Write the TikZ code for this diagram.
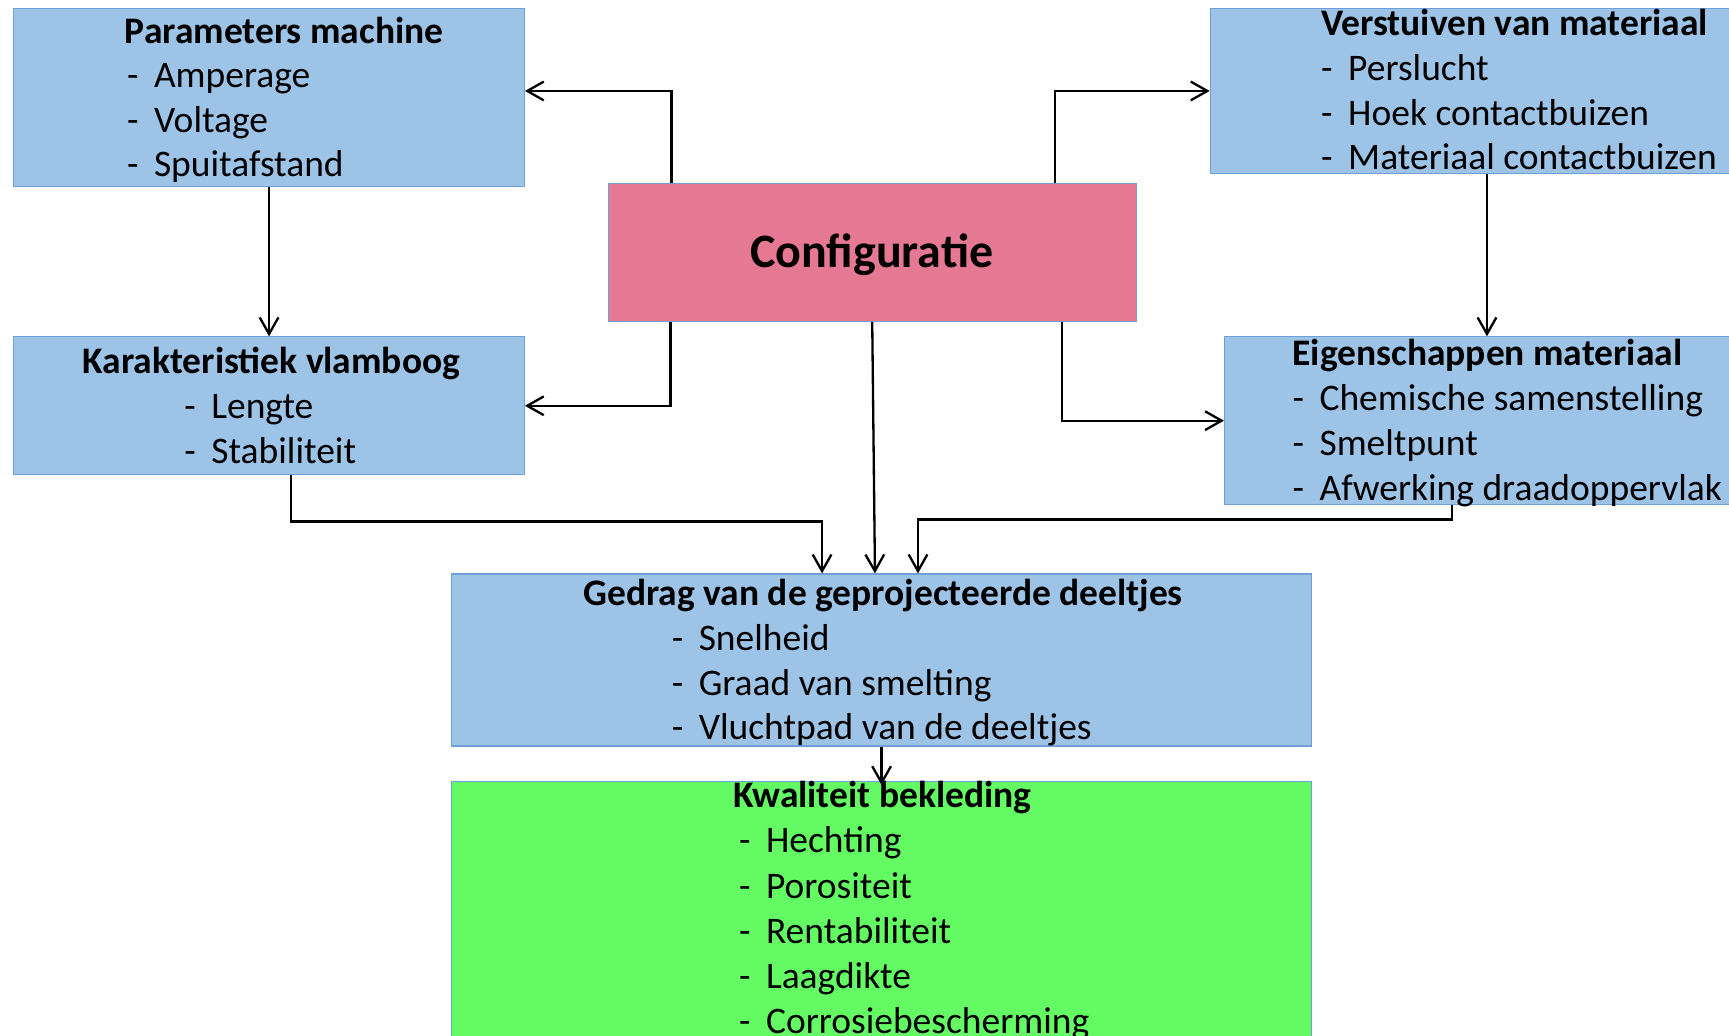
\documentclass[tikz,border=0pt]{standalone}
\usepackage{fontspec}
\setmainfont{Carlito}
\usetikzlibrary{arrows.meta}

\definecolor{boxblue}{RGB}{157,195,230}
\definecolor{edgeblue}{RGB}{110,160,215}
\definecolor{confpink}{RGB}{229,121,148}
\definecolor{coatgreen}{RGB}{100,250,100}

\newcommand{\itemdash}{\makebox[24.5pt][l]{-}}

\tikzset{
    box/.style={draw=edgeblue, line width=1pt, anchor=north west, inner sep=0pt},
    bluebox/.style={box, fill=boxblue},
    head/.style={anchor=base west, inner sep=0pt, font=\fontsize{34}{40}\selectfont\bfseries},
    item/.style={anchor=base west, inner sep=0pt, font=\fontsize{34}{40}\selectfont},
    link/.style={->, line width=2.1pt},
}

\begin{document}
\begin{tikzpicture}[x=1pt, y=-1pt, >={Straight Barb[length=15pt,width=17pt]}]
    \useasboundingbox (0,0) rectangle (1568,939);
    \clip (0,0) rectangle (1568,939);

    % boxes
    \node[bluebox, minimum width=463pt, minimum height=162pt] (par) at (12,7) {};
    \node[bluebox, minimum width=502pt, minimum height=150pt] (ver) at (1097,7) {};
    \node[box, fill=confpink, minimum width=479pt, minimum height=125pt] (conf) at (551,166) {};
    \node[bluebox, minimum width=463pt, minimum height=125pt] (kar) at (12,305) {};
    \node[bluebox, minimum width=476pt, minimum height=152pt] (eig) at (1110,305) {};
    \node[bluebox, minimum width=780pt, minimum height=156pt] (ged) at (409,520) {};
    \node[box, fill=coatgreen, minimum width=780pt, minimum height=260pt] (kwa) at (409,708) {};

    % texts
    \node[anchor=base, inner sep=0pt, font=\fontsize{43.5}{50}\selectfont\bfseries] (conftxt) at (790.5,243) {Configuratie};

    \node[head] (par-h) at (113,39) {Parameters machine};
    \foreach \t [count=\i] in {Amperage, Voltage, Spuitafstand}
        \node[item] (par-\i) at (115,39+40.5*\i) {\itemdash\t};

    \node[head] (ver-h) at (1198,32) {Verstuiven van materiaal};
    \foreach \t [count=\i] in {Perslucht, Hoek contactbuizen, Materiaal contactbuizen}
        \node[item] (ver-\i) at (1198,32.5+40.5*\i) {\itemdash\t};

    \node[head] (kar-h) at (75,339) {Karakteristiek vlamboog};
    \foreach \t [count=\i] in {Lengte, Stabiliteit}
        \node[item] (kar-\i) at (167,339+40.5*\i) {\itemdash\t};

    \node[head] (eig-h) at (1172,331.5) {Eigenschappen materiaal};
    \foreach \t [count=\i] in {Chemische samenstelling, Smeltpunt, Afwerking draadoppervlak}
        \node[item] (eig-\i) at (1172,332+40.5*\i) {\itemdash\t};

    \node[head] (ged-h) at (529,549.5) {Gedrag van de geprojecteerde deeltjes};
    \foreach \t [count=\i] in {Snelheid, Graad van smelting, Vluchtpad van de deeltjes}
        \node[item] (ged-\i) at (609,549.5+40.5*\i) {\itemdash\t};

    \node[head] (kwa-h) at (665,732.5) {Kwaliteit bekleding};
    \foreach \t [count=\i] in {Hechting, Porositeit, Rentabiliteit, Laagdikte, Corrosiebescherming}
        \node[item] (kwa-\i) at (670,732.5+41*\i) {\itemdash\t};

    % connectors
    \draw[link] ([xshift=58pt]conf.north west) |- ([yshift=6pt]par.east);
    \draw[link] ([xshift=-74pt]conf.north east) |- (ver.west);
    \draw[link] (par.south) -- (kar.north);
    \draw[link] (ver.south) -- (eig.north);
    \draw[link] ([xshift=57pt]conf.south west) |- (kar.east);
    \draw[link] ([xshift=-68pt]conf.south east) |- (eig.west);
    \draw[link] (conf.south) -- ([xshift=-6pt]ged.north);
    \draw[link] ([xshift=20pt]kar.south) -- ++(0,42) -| ([xshift=-54pt]ged.north);
    \draw[link] ([xshift=-32pt]eig.south) -- ++(0,13) -| ([xshift=33pt]ged.north);
    \draw[link] (ged.south) -- ([yshift=-4pt]kwa.north);
\end{tikzpicture}
\end{document}
